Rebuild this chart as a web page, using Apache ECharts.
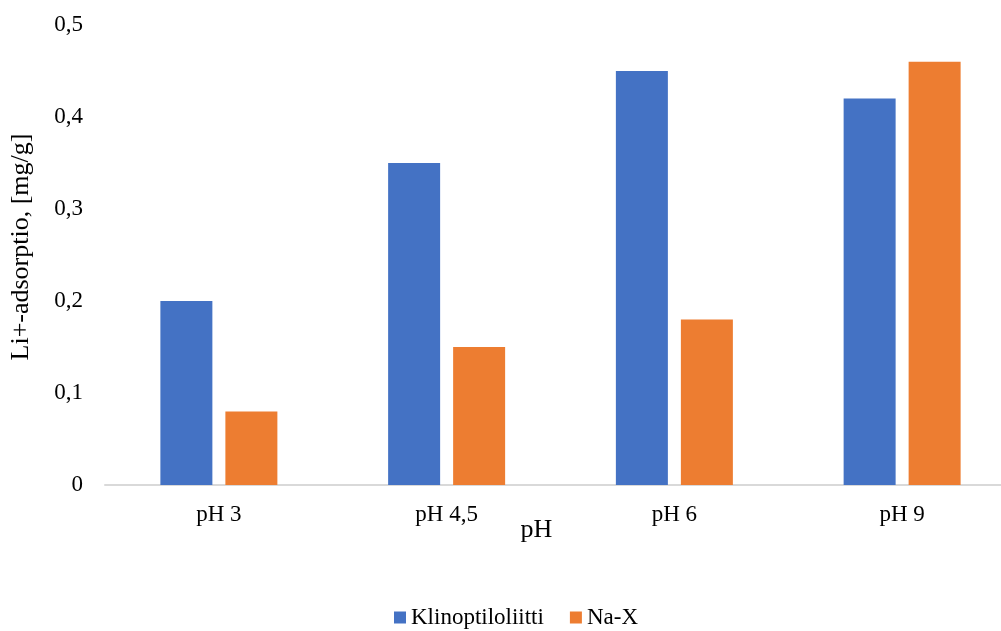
<!DOCTYPE html>
<html>
<head>
<meta charset="utf-8">
<style>
  html, body { margin: 0; padding: 0; background: #fff; }
  #chart { width: 1001px; height: 631px; }
</style>
<script src="https://cdn.jsdelivr.net/npm/echarts@6/dist/echarts.min.js"></script>
</head>
<body>
<div id="chart"></div>
<script>
// Li+ adsorption per pH for two zeolites
const categories = ['pH 3', 'pH 4,5', 'pH 6', 'pH 9'];
const klinoptiloliitti = [0.20, 0.35, 0.45, 0.42];
const naX = [0.08, 0.15, 0.18, 0.46];
const yTicks = { min: 0, max: 0.5, interval: 0.1 };

const font = '"Liberation Serif", "Times New Roman", serif';
const chart = echarts.init(document.getElementById('chart'), null, { renderer: 'canvas' });

chart.setOption({
  animation: false,
  textStyle: { fontFamily: font, color: '#000' },
  grid: {
    left: 105, top: 25, width: 911, height: 460,
    containLabel: false,
    outerBoundsMode: 'none'
  },
  legend: {
    top: 601,
    left: 389,
    itemWidth: 12,
    itemHeight: 12,
    itemGap: 26,
    icon: 'rect',
    textStyle: { fontFamily: font, fontSize: 23, color: '#000' },
    data: ['Klinoptiloliitti', 'Na-X']
  },
  xAxis: {
    type: 'category',
    data: categories,
    name: 'pH',
    nameLocation: 'middle',
    nameGap: 32,
    nameMoveOverlap: false,
    nameTextStyle: { fontFamily: font, fontSize: 26, color: '#000', padding: [0, 48, 0, 0] },
    axisLine: { lineStyle: { color: '#d9d9d9', width: 2 } },
    axisTick: { show: false },
    axisLabel: { fontFamily: font, fontSize: 23, color: '#000', margin: 18 }
  },
  yAxis: {
    type: 'value',
    min: yTicks.min,
    max: yTicks.max,
    interval: yTicks.interval,
    name: 'Li+-adsorptio, [mg/g]',
    nameLocation: 'middle',
    nameGap: 71,
    nameRotate: 90,
    nameTextStyle: { fontFamily: font, fontSize: 26, color: '#000', padding: [0, 0, 0, 16] },
    axisLine: { show: false },
    axisTick: { show: false },
    splitLine: { show: false },
    axisLabel: {
      fontFamily: font, fontSize: 23, color: '#000', margin: 22,
      formatter: v => String(Math.round(v * 10) / 10).replace('.', ',')
    }
  },
  series: [
    {
      name: 'Klinoptiloliitti',
      type: 'bar',
      data: klinoptiloliitti,
      barWidth: 52,
      barGap: '25%',
      itemStyle: { color: '#4472c4' }
    },
    {
      name: 'Na-X',
      type: 'bar',
      data: naX,
      barWidth: 52,
      barGap: '25%',
      itemStyle: { color: '#ed7d31' }
    }
  ]
});
</script>
</body>
</html>
